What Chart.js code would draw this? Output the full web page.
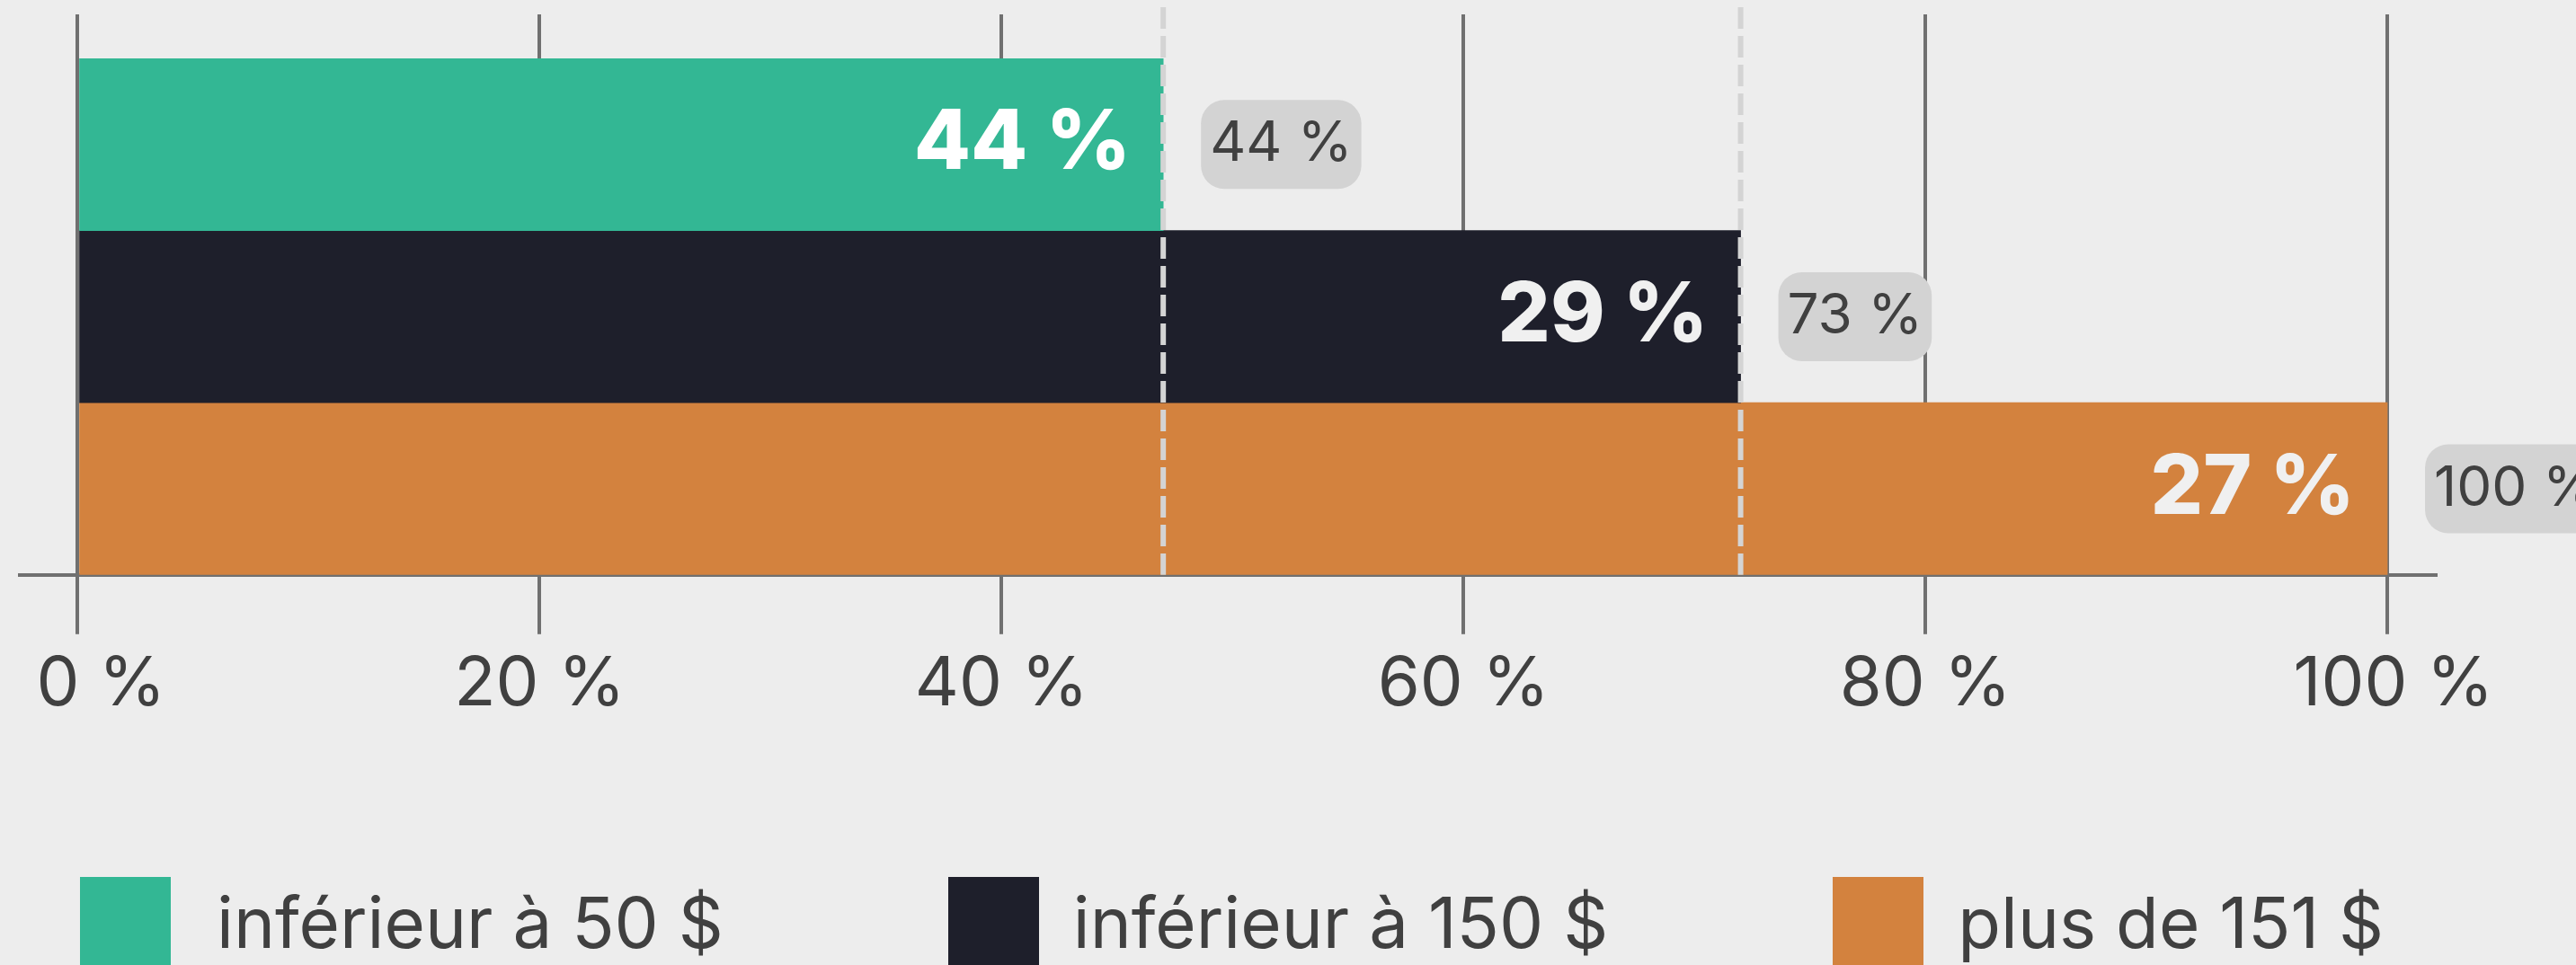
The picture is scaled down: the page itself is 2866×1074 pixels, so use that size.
<!DOCTYPE html>
<html>
<head>
<meta charset="utf-8">
<script src="https://cdn.jsdelivr.net/npm/chart.js@4.4.1/dist/chart.umd.min.js"></script>
<style>
  html, body { margin: 0; padding: 0; background: #ededed; overflow: hidden; }
  #wrap { position: relative; width: 2866px; height: 1074px; }
  #legend { position: absolute; left: 89px; top: 976px; display: flex; gap: 250px;
            font-family: Inter, sans-serif; font-size: 78px; color: #404040; }
  .item { display: flex; align-items: flex-start; }
  .box { width: 101px; height: 101px; margin-right: 38px; }
  .item:first-child .box { margin-right: 51px; }
  .item span { line-height: 101px; white-space: nowrap; }
</style>
</head>
<body>
<div id="wrap">
  <canvas id="chart1"></canvas>
  <div id="legend"></div>
</div>
<script>
var categories = ['inférieur à 50 $', 'inférieur à 150 $', 'plus de 151 $'];
var barEnds = [47, 72, 100];            // fin de chaque barre sur l'axe
var partLabels = ['44 %', '29 %', '27 %'];
var cumulLabels = ['44 %', '73 %', '100 %'];
var tickValues = [0, 20, 40, 60, 80, 100];
var tickLabels = ['0 %', '20 %', '40 %', '60 %', '80 %', '100 %'];

var colors = ['#33b794', '#1e1f2b', '#d3823e'];

var datasets = categories.map(function(name, i){
    return {
        label: name,
        data: categories.map(function(c, j){ return j === i ? barEnds[i] : null }),
        backgroundColor: colors[i],
        grouped: false,
        categoryPercentage: 1,
        barPercentage: 1
    }
});

function setTicks(scale){
    scale.ticks = tickValues.map(function(v){ return {value: v} });
}

// lignes pointillées + étiquettes
const extras = {
    id: 'extras',
    afterDraw: function(chart){
        var ctx = chart.ctx;
        var x = chart.scales.x;
        var area = chart.chartArea;
        ctx.save();
        ctx.strokeStyle = '#d4d4d4';
        ctx.lineWidth = 6;
        ctx.setLineDash([24, 8]);
        for (var i = 0; i < barEnds.length - 1; i++){
            var px = x.getPixelForValue(barEnds[i]);
            ctx.beginPath();
            ctx.moveTo(px, 8);
            ctx.lineTo(px, area.bottom);
            ctx.stroke();
        }
        ctx.setLineDash([]);

        for (var i = 0; i < categories.length; i++){
            var bar = chart.getDatasetMeta(i).data[i];
            ctx.textBaseline = 'middle';
            ctx.font = '800 92px Inter';
            ctx.textAlign = 'right';
            ctx.fillStyle = i === 0 ? '#ffffff' : '#f0f0f0';
            ctx.fillText(partLabels[i], bar.x - 36, bar.y);

            ctx.font = '62px Inter';
            var w = ctx.measureText(cumulLabels[i]).width + 20;
            var bx = bar.x + 42;
            ctx.fillStyle = '#d3d3d3';
            ctx.beginPath();
            ctx.roundRect(bx, bar.y - 49.5, w, 99, 26);
            ctx.fill();
            ctx.fillStyle = '#404040';
            ctx.textAlign = 'left';
            ctx.fillText(cumulLabels[i], bx + 10, bar.y);
        }
        ctx.restore();
    }
};

const chart1 = document.getElementById('chart1');
const chart = new Chart(chart1, {
    type: 'bar',
    data: {
        labels: categories,
        datasets: datasets
    },
    options: {
        indexAxis: 'y',
        responsive: true,
        maintainAspectRatio: false,
        animation: false,
        layout: { padding: { top: 16, left: 22, right: 156, bottom: 255 } },
        plugins: {
            legend: { display: false },
            tooltip: { enabled: false }
        },
        scales: {
            y: { display: false },
            x: {
                min: -2.51,
                max: 102.1,
                z: 1,
                afterBuildTicks: setTicks,
                afterFit: function(s){ s.paddingLeft = 0; s.paddingRight = 0; },
                grid: { color: '#707070', lineWidth: 4, tickLength: 66 },
                border: { color: '#707070', width: 4 },
                ticks: {
                    font: { family: 'Inter', size: 76 },
                    color: '#404040',
                    padding: 11,
                    maxRotation: 0,
                    autoSkip: false,
                    callback: function(v, idx){
                        // premier et dernier libellé un peu décalés à droite comme sur l'original
                        if (idx === 0) return '\u2002\u2009' + tickLabels[idx];
                        if (idx === tickLabels.length - 1) return '\u2009' + tickLabels[idx];
                        return tickLabels[idx];
                    }
                }
            },
            x2: {
                type: 'linear',
                axis: 'x',
                position: 'top',
                min: -2.51,
                max: 102.1,
                afterBuildTicks: setTicks,
                grid: { drawOnChartArea: false, color: '#707070', lineWidth: 4, tickLength: 49 },
                border: { display: false },
                ticks: { display: false }
            }
        }
    },
    plugins: [extras]
});

// légende en HTML
var legend = document.getElementById('legend');
chart.data.datasets.forEach(function(ds){
    var item = document.createElement('div');
    item.className = 'item';
    item.innerHTML = '<div class="box" style="background:' + ds.backgroundColor + '"></div><span>' + ds.label + '</span>';
    legend.appendChild(item);
});
</script>
</body>
</html>
